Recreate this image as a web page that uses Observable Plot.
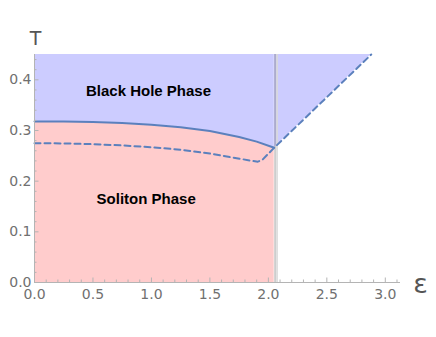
<!DOCTYPE html>
<html><head><meta charset="utf-8">
<script src="https://cdn.jsdelivr.net/npm/d3@7"></script>
<script src="https://cdn.jsdelivr.net/npm/@observablehq/plot@0.6"></script>
<style>
html,body{margin:0;padding:0;background:#fff;}
</style>
</head><body><div id="chart"></div>
<script>
// Phase boundary (solid) curve
const solidEps = [0, 0.25, 0.5, 0.75, 1.0, 1.25, 1.5, 1.75, 1.9, 2.05];
const solidT   = [0.318, 0.3177, 0.3167, 0.3148, 0.3115, 0.3065, 0.299, 0.287, 0.278, 0.266];
// Dashed curve
const dashedEps = [0, 0.25, 0.5, 0.75, 1.0, 1.25, 1.5, 1.7, 1.85, 1.91, 1.95, 2.05, 2.88];
const dashedT   = [0.275, 0.2745, 0.273, 0.2705, 0.267, 0.262, 0.2545, 0.2465, 0.2405, 0.2385, 0.2425, 0.266, 0.45];
// critical epsilon (vertical line) and junction
const critEps = [2.058];
const junctionEps = 2.05;
// axis ranges and ticks
const xDomain = [0, 3.13];
const yDomain = [0, 0.45];
const xTicks = [0, 0.5, 1.0, 1.5, 2.0, 2.5, 3.0];
const yTicks = [0, 0.1, 0.2, 0.3, 0.4];
const xMinor = [0.1,0.2,0.3,0.4,0.6,0.7,0.8,0.9,1.1,1.2,1.3,1.4,1.6,1.7,1.8,1.9,2.1,2.2,2.3,2.4,2.6,2.7,2.8,2.9,3.1];
const yMinor = [0.02,0.04,0.06,0.08,0.12,0.14,0.16,0.18,0.22,0.24,0.26,0.28,0.32,0.34,0.36,0.38,0.42,0.44];
// labels
const phaseLabels = ["Black Hole Phase", "Soliton Phase"];
const labelEps = [0.975, 0.955];
const labelT = [0.377, 0.164];
const xAxisLabel = "ε";
const yAxisLabel = "T";

const solid = solidEps.map((e, i) => ({eps: e, T: solidT[i]}));
const dashed = dashedEps.map((e, i) => ({eps: e, T: dashedT[i]}));
const dashedRight = dashed.filter(d => d.eps >= junctionEps);
const labels = phaseLabels.map((t, i) => ({text: t, eps: labelEps[i], T: labelT[i]}));
const yMax = yDomain[1];
const curveColor = "#5b80bd";
const axisGray = "#b4b4b4";
const fmt = d3.format(".1f");

const chart = Plot.plot({
  width: 436, height: 337,
  marginLeft: 34, marginRight: 36, marginTop: 54, marginBottom: 55,
  x: {domain: xDomain},
  y: {domain: yDomain},
  style: {fontFamily: "DejaVu Sans", fontSize: "14px", color: "#707070", background: "white"},
  marks: [
    Plot.areaY(solid, {x: "eps", y1: 0, y2: "T", fill: "#ffcccc"}),
    Plot.areaY(solid, {x: "eps", y1: "T", y2: yMax, fill: "#ccccff"}),
    Plot.areaY(dashedRight, {x: "eps", y1: "T", y2: yMax, fill: "#ccccff"}),
    Plot.ruleX(critEps, {stroke: "#707070", strokeOpacity: 0.35, strokeWidth: 2}),
    Plot.ruleX(critEps, {stroke: "#dadada", strokeWidth: 1.6, dx: 1.9}),
    Plot.line(solid, {x: "eps", y: "T", stroke: curveColor, strokeWidth: 2}),
    Plot.line(dashed, {x: "eps", y: "T", stroke: curveColor, strokeWidth: 2, strokeDasharray: "6,4"}),
    Plot.text(labels, {x: "eps", y: "T", text: "text", fontWeight: "bold", fontSize: 15,
      fontFamily: "Liberation Sans, Arial, sans-serif", fill: "black"}),
    // axes lines
    Plot.ruleY([0], {stroke: axisGray}),
    Plot.ruleX([0], {stroke: axisGray}),
    // ticks
    Plot.axisX(xTicks, {tickSize: -4.5, tickFormat: () => "", stroke: axisGray, label: null}),
    Plot.axisX(xMinor, {tickSize: -2.5, tickFormat: () => "", stroke: axisGray, label: null}),
    Plot.axisY(yTicks, {tickSize: -4.5, tickFormat: () => "", stroke: axisGray, label: null}),
    Plot.axisY(yMinor, {tickSize: -2.5, tickFormat: () => "", stroke: axisGray, label: null}),
    // tick labels
    Plot.axisX(xTicks, {tickSize: 0, tickPadding: 7, tickFormat: fmt, label: null, fill: "#707070"}),
    Plot.axisY(yTicks, {tickSize: 0, tickPadding: 3, tickFormat: fmt, label: null, fill: "#707070"}),
    // axis labels
    Plot.text([yAxisLabel], {frameAnchor: "top-left", dy: -16, dx: 1, fontSize: 19, fill: "#555",
      textAnchor: "middle", lineAnchor: "middle", fontFamily: "DejaVu Sans"}),
    Plot.text([xAxisLabel], {frameAnchor: "bottom-right", dx: 20, dy: 2, fontSize: 27, fill: "#555",
      textAnchor: "middle", lineAnchor: "middle", fontFamily: "DejaVu Sans"})
  ]
});
document.getElementById("chart").appendChild(chart);
</script>
</body></html>
